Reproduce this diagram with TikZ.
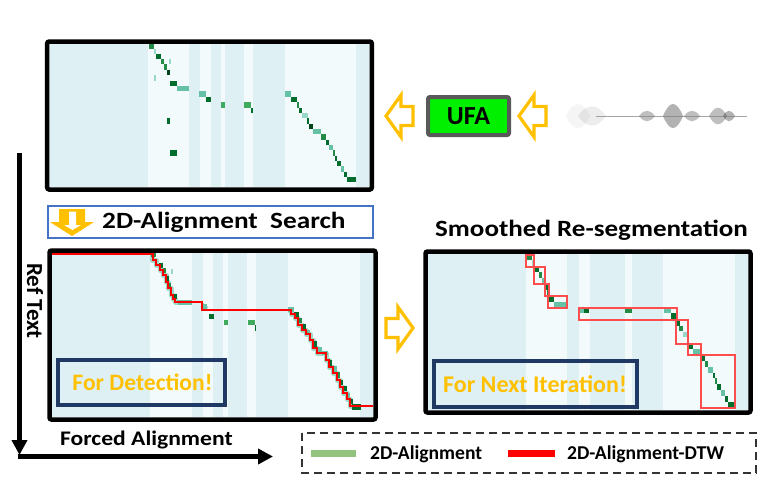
\documentclass[tikz,border=0pt]{standalone}
\usepackage{fontspec}
\usepackage{graphicx}
\setmainfont{Carlito}
\usetikzlibrary{arrows.meta}
\definecolor{hmblue}{HTML}{DFF0F5}
\definecolor{hmlight}{HTML}{F3FAFC}
\definecolor{gD}{HTML}{006D2C}
\definecolor{gX}{HTML}{00441B}
\definecolor{gM}{HTML}{238B45}
\definecolor{gN}{HTML}{41AB5D}
\definecolor{gL}{HTML}{66C2A4}
\definecolor{gV}{HTML}{99D8C9}
\definecolor{orng}{HTML}{FFC000}
\definecolor{navy}{HTML}{1F3864}
\definecolor{sbblue}{HTML}{4472C4}
\definecolor{ufagray}{HTML}{595959}
\definecolor{ufagreen}{HTML}{00F000}
\definecolor{leggreen}{HTML}{93C47D}
\definecolor{legline}{HTML}{333333}
\newcommand\wblob[4]{\fill[black, opacity=#4] ({#1-#2},116) .. controls ({#1-#2/3},{116-#3}) and ({#1+#2/3},{116-#3}) .. ({#1+#2},116) .. controls ({#1+#2/3},{116+#3}) and ({#1-#2/3},{116+#3}) .. cycle;}
\tikzset{
  lbl/.style={font=\bfseries\fontsize{#1}{#1}\selectfont, inner sep=0pt},
  frame/.style={line width=4.5pt, rounded corners=2pt},
  hollowarrow/.style={draw=orng, line width=3.2pt, fill=white, miter limit=4},
  redbox/.style={draw=red!70, line width=1.1pt},
  navybox/.style={draw=navy, line width=4pt},
  axisline/.style={line width=4.5pt, -{Triangle[length=15pt,width=15pt]}},
}
\begin{document}
\begin{tikzpicture}[x=1pt,y=-1pt]
\useasboundingbox (0,0) rectangle (763,491);
\fill[white] (0,0) rectangle (763,491);

% ---------------- top panel ----------------
\fill[hmlight] (49,44) rectangle (370,187);
\foreach \a/\b in {49/148,189/200,211/221,225/244,253/285,356/370}
  \fill[hmblue] (\a,44) rectangle (\b,187);
\foreach \a/\b/\c/\d/\col in {
  149/44/154/49/gM, 154/49/156/54/gV, 156/54/161/59/gD, 161/59/164/64/gM,
  169/59/171/64/gV, 164/64/167/70/gM, 167/70/170/75/gX, 154/75/156/81/gV,
  170/81/177/86/gD, 177/86/189/91/gL, 199/91/206/97/gL, 206/97/211/102/gD,
  221/102/225/108/gN, 244/102/251/108/gN, 251/108/253/113/gD,
  167/118/170/124/gD, 170/150/177/156/gD,
  285/91/291/97/gL, 291/97/297/102/gD, 297/102/299/108/gM, 299/108/302/113/gD,
  302/113/308/118/gV, 307/118/309/124/gD, 309/124/313/129/gX, 313/129/321/134/gL,
  321/134/326/140/gM, 326/140/329/145/gD, 329/145/333/150/gL, 333/150/335/156/gM,
  335/156/337/161/gD, 337/161/341/166/gD, 341/166/344/172/gL, 344/172/347/177/gD,
  347/177/356/182/gD}
  \fill[\col] (\a,\b) rectangle (\c,\d);
\draw[frame] (47.2,41.5) rectangle (371.8,189.5);

% ---------------- UFA and waveform ----------------
\draw[hollowarrow] (386,116) -- (401,95) -- (401,106.5) -- (413,106.5) -- (413,125.5) -- (401,125.5) -- (401,137) -- cycle;
\node[draw=ufagray, line width=4pt, fill=ufagreen, rounded corners=2pt,
      minimum width=81pt, minimum height=38pt, font=\bfseries\fontsize{26}{26}\selectfont, inner sep=0pt]
      (ufa) at (468.5,116) {UFA};
\draw[hollowarrow] (519,116) -- (534,95) -- (534,106.5) -- (546,106.5) -- (546,125.5) -- (534,125.5) -- (534,137) -- cycle;
\wblob{578}{12}{16}{0.04}
\wblob{592}{14}{13}{0.07}
\wblob{647}{8}{7}{0.25}
\wblob{673}{10}{16}{0.3}
\wblob{692}{8}{7}{0.25}
\wblob{718}{9}{11}{0.25}
\wblob{729}{6}{7}{0.3}
\draw[gray, line width=0.8pt, opacity=0.7] (596,116) -- (747,116);

% ---------------- search bar ----------------
\node[draw=sbblue, line width=2pt, fill=white, minimum width=325pt, minimum height=32pt, inner sep=0pt]
     (searchbar) at (210,221.5) {};
\fill[orng] (72,236) -- (50,222) -- (59,222) -- (59,209) -- (85,209) -- (85,222) -- (94,222) -- cycle;
\fill[white] (72.5,230) -- (64,225) -- (69,225) -- (69,211.5) -- (76,211.5) -- (76,225) -- (81,225) -- cycle;
\node[lbl=23.3, anchor=base west] (searchtxt) at (102,228.3) {\scalebox{1.17}[1]{2D-Alignment~~Search}};

% ---------------- bottom-left panel ----------------
\fill[hmlight] (51,253) rectangle (373,417);
\foreach \a/\b in {51/150,192/203,213/223,228/247,256/288,360/373}
  \fill[hmblue] (\a,253) rectangle (\b,417);
\foreach \a/\b/\c/\d/\col in {
  170.5/269/172.5/274/gV, 208.5/313.5/214/319/gD, 223.5/320/228/325/gN,
  248/320/255/325/gN, 254.5/325/256/331/gD}
  \fill[\col] (\a,\b) rectangle (\c,\d);
\draw[gL, opacity=0.6, line width=5pt, line join=round]
  (152,254) |- (156,260) |- (160,265) |- (163,270) |- (166,275) |- (168,282) |- (171,288) |- (173,295) |- (175,299) |- (178,302) -- (192,302);
\draw[gL, opacity=0.6, line width=5pt] (202,305) -- (207,309);
\draw[gL, opacity=0.6, line width=5pt, line join=round]
  (288,310) -- (291,310) |- (295,314) |- (298,318) |- (302,325) |- (306,330) |- (310,334) |- (313,340) |- (317,348) |- (320,353) -- (326,353) |- (329,360) |- (333,367) |- (337,373) |- (340,380) |- (343,387) |- (347,393) |- (350,399) |- (353,406) -- (360,406);
\foreach \a/\b/\c/\d/\col in {
  151/252.5/156/257/gM, 159/263/163/268/gD, 163/268/166/273/gM, 166/276/169/281/gD,
  168/283/171/288/gM, 172/294/177/299/gD, 178/299.5/192/304.5/gL, 202/304/207/310/gL,
  288/307/294/312/gL, 294/312/299/317/gD, 299/318/302/323/gM, 302/324/306/330/gD,
  306/330/310/335/gL, 312/341/317/347/gD, 317/347/322/353/gL, 322/351/328/355/gL,
  328/360/332/366/gD, 333/366/337/372/gL, 337/372/340/378/gM, 339/380/343/385/gD,
  343/386/347/391/gD, 347/393/350/398/gL, 350/399/353/404/gD, 352/404/361/410/gD}
  \fill[\col] (\a,\b) rectangle (\c,\d);
\draw[red, line width=1.5pt]
  (51,254) -- (153,254) |- (156,260) |- (160,265) |- (163,270) |- (166,275) |- (168,282) |- (171,288) |- (173,295) |- (175,299) |- (178,302) -- (202,302) |- (204,310) -- (291,310) |- (295,314) |- (298,318) |- (302,325) |- (306,330) |- (310,334) |- (313,340) |- (317,348) |- (320,353) -- (326,353) |- (329,360) |- (333,367) |- (337,373) |- (340,380) |- (343,387) |- (347,393) |- (350,399) |- (353,406) -- (373,406);
\draw[navybox] (58,359.5) rectangle (224.5,405);
\node[font=\bfseries\fontsize{23.6}{23.6}\selectfont, text=orng, inner sep=0pt, anchor=base]
     (detect) at (142.5,390) {For Detection!};
\draw[frame] (49.5,250.5) rectangle (375.5,419.5);
\node[lbl=23, rotate=-90] (reftext) at (35,301) {Ref Text};

% ---------------- arrow between panels ----------------
\draw[hollowarrow] (413,328) -- (398,307) -- (398,318.5) -- (386,318.5) -- (386,337.5) -- (398,337.5) -- (398,349) -- cycle;

% ---------------- bottom-right panel ----------------
\node[lbl=23.3, anchor=base west] (smooth) at (435,236.5) {\scalebox{1.16}[1]{Smoothed Re-segmentation}};
\fill[hmlight] (428,254) rectangle (749,410);
\foreach \a/\b in {428/526,567/579,590/625,632/663,735/749}
  \fill[hmblue] (\a,254) rectangle (\b,410);
\foreach \a/\b/\c/\d/\col in {
  527/255/532/260/gM, 532/260/534/266/gV, 535/267/539/272/gD, 539/272/542/278/gM,
  542/278/545/283/gL, 545/284/547.5/290/gD, 547/290/549/296/gM, 549/296/554/302/gD,
  554/302/567/308/gL, 580/309/584/313/gL, 584/308/589/313/gD, 625/308/632/313/gM,
  664/308/671/313/gL, 671/313/676/319/gD, 677/320/680/326/gD, 679/326/683/331/gM,
  683/332/687/337/gV, 687/337/688.5/343/gD, 688/344/693/349/gD, 693/349/701/355/gL,
  702/355/705/361/gD, 705/361/708/367/gM, 708/367/713/373/gL, 713/373/715/378/gD,
  715/378/717/384/gM, 717/384/721/390/gD, 721/390/725/396/gL, 725/396/728/402/gD,
  728/402/735/408/gD}
  \fill[\col] (\a,\b) rectangle (\c,\d);
\foreach \a/\b/\c/\d in {526/255/534/267, 534/267/545/284, 545/284/549/296, 548/296/567/308,
  579/308/677/320, 676/320/688/344, 688/344/701/355, 701/355/735/408}
  \draw[redbox] (\a,\b) rectangle (\c,\d);
\draw[navybox] (434,361) rectangle (637,406.5);
\node[font=\bfseries\fontsize{24}{24}\selectfont, text=orng, inner sep=0pt, anchor=base]
     (nextit) at (535,392.7) {For Next Iteration!};
\draw[frame] (425.5,251.5) rectangle (750.5,412.5);

% ---------------- axes ----------------
\coordinate (vtop) at (19.5,153);
\coordinate (vbot) at (19.5,455);
\coordinate (hleft) at (17.5,456.5);
\coordinate (hright) at (273,456.5);
\draw[axisline] (vtop) -- (vbot);
\draw[axisline, line width=5pt] (hleft) -- (hright);
\node[lbl=20.7, anchor=base west] (forced) at (60,445) {\scalebox{1.14}[1]{Forced Alignment}};

% ---------------- legend ----------------
\draw[legline, line width=1.8pt, dash pattern=on 8pt off 5pt] (302,433) rectangle (756,473);
\draw[leggreen, line width=7pt] (311,453) -- (356,453);
\node[lbl=19.6, anchor=base west] (leg1) at (370,459.3) {2D-Alignment};
\draw[red, line width=7pt] (508,453) -- (555,453);
\node[lbl=19.6, anchor=base west] (leg2) at (567,459.3) {2D-Alignment-DTW};
\end{tikzpicture}
\end{document}
